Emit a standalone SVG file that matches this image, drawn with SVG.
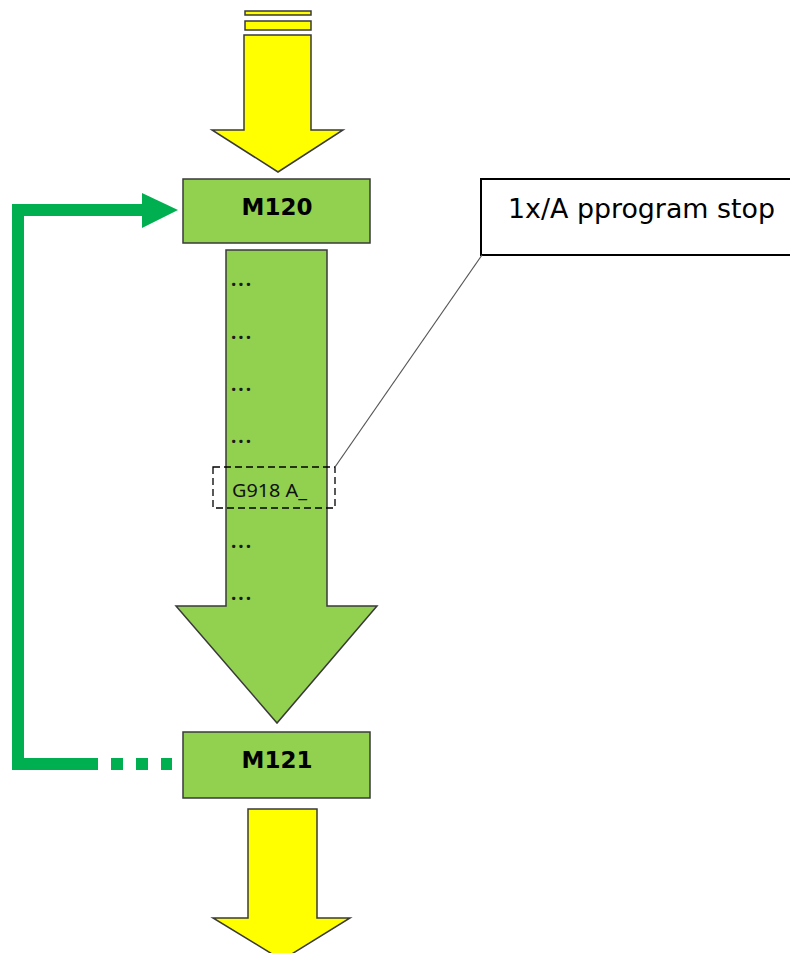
<svg xmlns="http://www.w3.org/2000/svg" width="790" height="953" viewBox="0 0 790 953">
<style>
.yel{fill:#FFFF00;stroke:#3a3a3a;stroke-width:1.5}
.grn{fill:#92D050;stroke:#3a3a3a;stroke-width:1.5}
.lbl{font-family:"DejaVu Sans",Verdana,sans-serif;font-weight:bold;font-size:23px;fill:#000;text-anchor:middle}
.dots{font-family:"Noto Sans","Open Sans",sans-serif;font-weight:bold;font-size:19px;letter-spacing:2px;fill:#1a1a1a}
.flow{fill:none;stroke:#00B050;stroke-width:12}
</style>
<rect width="790" height="953" fill="#fff"/>
<g id="start-arrow">
<rect class="yel" x="245" y="11" width="66" height="4"/>
<rect class="yel" x="245" y="21" width="66" height="9"/>
<polygon class="yel" points="244,35 311,35 311,130 343,130 278,172 212,130 244,130"/>
</g>
<g id="m120">
<rect class="grn" x="183" y="179" width="187" height="64"/>
<text class="lbl" x="277" y="215">M120</text>
</g>
<g id="program-body">
<polygon class="grn" points="226,250 327,250 327,606 377,606 277,723 176,606 226,606"/>
<text class="dots" x="231" y="286">...</text>
<text class="dots" x="231" y="339">...</text>
<text class="dots" x="231" y="391">...</text>
<text class="dots" x="231" y="443">...</text>
<text class="dots" x="231" y="548">...</text>
<text class="dots" x="231" y="600">...</text>
</g>
<g id="g918">
<rect x="213" y="467" width="122" height="41" fill="none" stroke="#000" stroke-width="1.3" stroke-dasharray="7,4"/>
<text x="232" y="497" font-family="'Noto Sans','Open Sans',sans-serif" font-size="18" textLength="75" lengthAdjust="spacingAndGlyphs" fill="#111">G918 A_</text>
</g>
<g id="m121">
<rect class="grn" x="183" y="732" width="187" height="66"/>
<text class="lbl" x="277" y="768">M121</text>
</g>
<g id="end-arrow">
<polygon class="yel" points="248,809 317,809 317,918 350,918 282,960 213,918 248,918"/>
</g>
<g id="callout">
<rect x="481" y="179" width="312" height="76" fill="#fff" stroke="#000" stroke-width="2"/>
<text x="508" y="218" font-family="'DejaVu Sans',Verdana,sans-serif" font-size="26" textLength="267" lengthAdjust="spacingAndGlyphs" fill="#000">1x/A pprogram stop</text>
</g>
<g id="connectors">
<line x1="482" y1="255" x2="335" y2="467" stroke="#555" stroke-width="1.2"/>
<polyline class="flow" points="98,764 18,764 18,210 142,210"/>
<polygon fill="#00B050" points="142,193 178,210 142,228"/>
<line class="flow" x1="111" y1="764" x2="172" y2="764" stroke-dasharray="12,13"/>
</g>
</svg>
